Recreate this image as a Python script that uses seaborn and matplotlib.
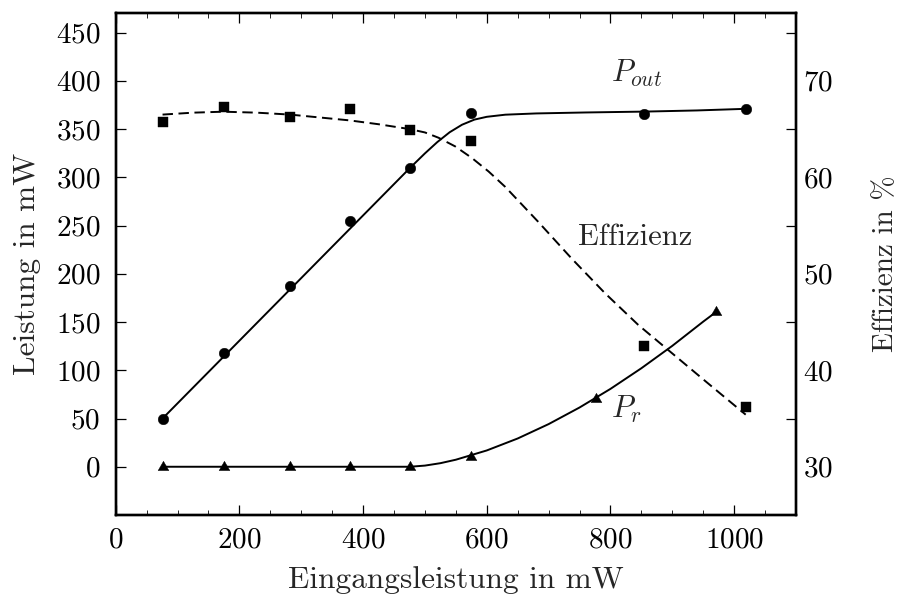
import matplotlib
matplotlib.use("Agg")
import matplotlib.pyplot as plt
from matplotlib.path import Path
from matplotlib.ticker import FixedLocator, MultipleLocator
import seaborn as sns

# Measured points
p_in = [75.7, 174.4, 281.8, 378.4, 475.5, 573.7, 855.0, 1019.8]
p_out = [50, 118, 187, 255, 310, 367, 365.4, 371]
efficiency = [65.7, 67.3, 66.2, 67.1, 64.9, 63.8, 42.5, 36.2]
p_in_r = [75.7, 174.4, 281.8, 378.4, 475.5, 573.7, 777.0, 971.0]
p_r = [0, 0, 0, 0, 0, 10.5, 70, 160]

# Tabulated trend curves
fit_out_x = [75.7, 475.5, 500, 520, 540, 560, 580, 600, 630, 680, 760, 855, 940, 1019.8]
fit_out_y = [50, 309.5, 324.8, 336.5, 346.7, 354.5, 359.8, 362.7, 364.9, 366.2, 367.2, 368.1, 369.3, 371]
fit_r_x = [75.7, 475.5, 500, 525, 550, 600, 650, 700, 750, 800, 850, 900, 950, 971]
fit_r_y = [0, 0, 1.2, 3.7, 7.3, 16.9, 29.3, 44.2, 61.4, 80.7, 102.1, 125.3, 150.4, 160.5]
fit_eff_x = [75.7, 125, 174, 228, 282, 378, 425, 475, 500, 522, 549, 576, 603, 630,
             683, 737, 791, 845, 899, 953, 1018.7]
fit_eff_y = [66.5, 66.7, 66.8, 66.7, 66.5, 65.9, 65.5, 65.0, 64.65, 64.1, 63.2, 62.0, 60.6, 59.0,
             55.4, 51.6, 48.0, 44.7, 41.8, 38.9, 35.4]

x_ticks = [0, 200, 400, 600, 800, 1000]
y_ticks = [0, 50, 100, 150, 200, 250, 300, 350, 400, 450]
eff_ticks = [30, 40, 50, 60, 70]
eff_marks = [35, 45, 55, 65, 75]

sns.set_theme(style="ticks")
plt.rcParams.update({
    "font.family": ["cmr10", "DejaVu Serif"],
    "mathtext.fontset": "cm",
    "axes.formatter.use_mathtext": True,
    "axes.unicode_minus": False,
    "font.size": 21,
    "axes.labelsize": 22.5,
    "xtick.labelsize": 21,
    "ytick.labelsize": 21,
    "axes.linewidth": 1.7,
    "axes.edgecolor": "black",
    "xtick.color": "black",
    "ytick.color": "black",
    "xtick.direction": "in",
    "ytick.direction": "in",
    "lines.scale_dashes": False,
})

fig = plt.figure(figsize=(9, 6.01), dpi=100)
ax = fig.add_axes([0.1286, 0.1431, 0.7558, 0.8348])
ax2 = ax.twinx()

# triangle centred on its centroid
tri = Path([[0, 1], [-0.866, -0.5], [0.866, -0.5], [0, 1]], closed=True)

sns.lineplot(x=fit_out_x, y=fit_out_y, ax=ax, color="black", linewidth=1.4,
             sort=False, estimator=None)
sns.lineplot(x=fit_r_x, y=fit_r_y, ax=ax, color="black", linewidth=1.4,
             sort=False, estimator=None)
sns.scatterplot(x=p_in, y=p_out, ax=ax, marker="o", s=58, color="black",
                edgecolor="black", linewidth=0.3, zorder=4)
sns.scatterplot(x=p_in_r, y=p_r, ax=ax, marker=tri, s=80, color="black",
                edgecolor="black", linewidth=0.3, zorder=4)

sns.lineplot(x=fit_eff_x, y=fit_eff_y, ax=ax2, color="black", linewidth=1.4,
             sort=False, estimator=None, linestyle=(0, (7.5, 4)))
sns.scatterplot(x=p_in, y=efficiency, ax=ax2, marker="s", s=42, color="black",
                edgecolor="black", linewidth=0.3, zorder=4)

ax.set_xlim(0, 1100)
ax.set_ylim(-50, 470)
ax2.set_ylim(25, 77)

ax.xaxis.set_major_locator(FixedLocator(x_ticks))
ax.xaxis.set_minor_locator(MultipleLocator(50))
ax.yaxis.set_major_locator(FixedLocator(y_ticks))
ax.tick_params(axis="x", which="major", length=7, width=0.9, top=True, bottom=True, pad=9)
ax.tick_params(axis="x", which="minor", length=3.5, width=0.6, top=True, bottom=True)
ax.tick_params(axis="y", which="major", length=7, width=0.9, left=True, right=False, pad=11)
ax.tick_params(axis="y", which="minor", left=False, right=False)

ax2.yaxis.set_major_locator(FixedLocator(eff_ticks))
ax2.yaxis.set_minor_locator(FixedLocator(eff_marks))
ax2.tick_params(axis="y", which="major", length=0, pad=5, right=True, left=False)
ax2.tick_params(axis="y", which="minor", length=7, width=0.9, right=True, left=False)

for a in (ax, ax2):
    for s in a.spines.values():
        s.set_linewidth(1.7)
        s.set_visible(True)
        s.set_color("black")

ax.set_xlabel("Eingangsleistung in mW", labelpad=9)
ax.set_ylabel("Leistung in mW", labelpad=11)
ax2.set_ylabel("Effizienz in %", fontsize=21, labelpad=29)

ax.text(801, 399, r"$P_{out}$", fontsize=22, ha="left", va="baseline")
ax.text(748, 230, "Effizienz", fontsize=22, ha="left", va="baseline")
ax.text(801, 50.5, r"$P_r$", fontsize=22, ha="left", va="baseline")

fig.savefig("out.png", dpi=100)
